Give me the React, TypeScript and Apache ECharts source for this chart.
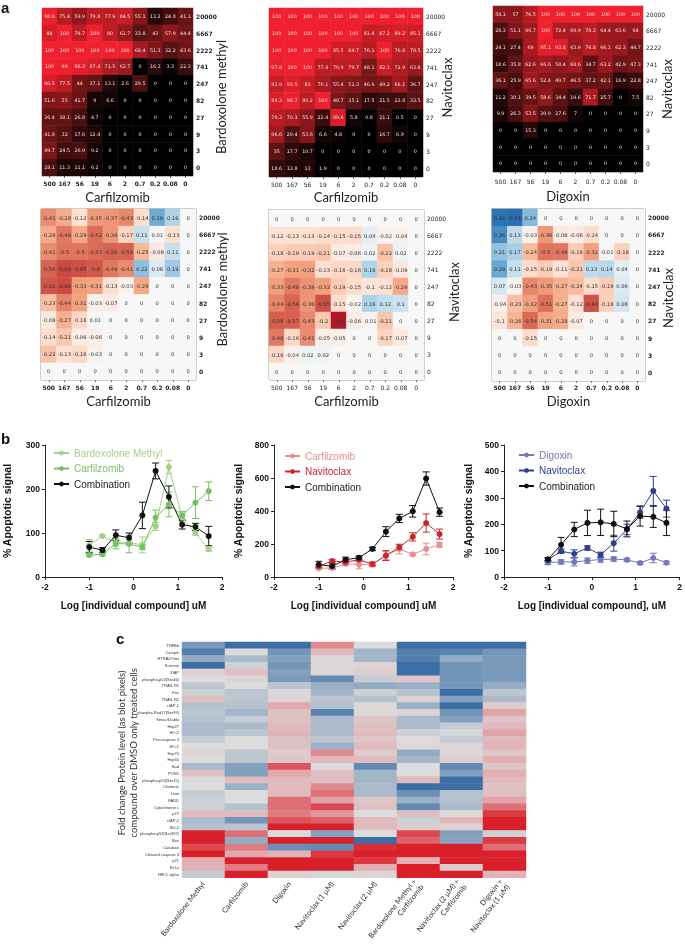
import React, { useEffect, useRef } from "react";
import * as echarts from "echarts";

// ---------- panel a ----------
const doseX = ["500", "167", "56", "19", "6", "2", "0.7", "0.2", "0.08", "0"];
const doseY = ["20000", "6667", "2222", "741", "247", "82", "27", "9", "3", "0"];

const inhibBardCarf = [
  [98.8, 75.4, 59.9, 79.8, 77.9, 84.5, 55.1, 13.2, 24.8, 41.1],
  [88, 100, 79.7, 100, 80, 61.7, 33.8, 43, 57.9, 44.4],
  [100, 100, 100, 100, 100, 100, 68.4, 51.3, 32.2, 43.6],
  [100, 99, 96.3, 87.4, 71.5, 63.7, 0, 16.3, 3.3, 22.3],
  [90.5, 77.5, 44, 37.1, 13.1, 2.6, 29.5, 0, 0, 0],
  [51.6, 55, 41.7, 9, 6.6, 0, 0, 0, 0, 0],
  [36.4, 38.1, 26.8, 4.7, 0, 0, 0, 0, 0, 0],
  [41.8, 32, 17.6, 12.4, 0, 0, 0, 0, 0, 0],
  [49.7, 24.5, 26.9, 9.2, 0, 0, 0, 0, 0, 0],
  [28.1, 11.3, 11.1, 6.2, 0, 0, 0, 0, 0, 0],
];
const inhibNaviCarf = [
  [100, 100, 100, 100, 100, 100, 100, 100, 100, 100],
  [100, 100, 100, 100, 100, 100, 81.4, 87.2, 89.2, 85.1],
  [100, 100, 100, 100, 85.5, 84.7, 76.1, 100, 76.8, 78.5],
  [97.8, 100, 100, 77.4, 79.9, 79.7, 48.1, 82.1, 72.9, 63.8],
  [81.9, 93.5, 83, 70.1, 55.4, 51.3, 46.6, 49.2, 66.1, 36.7],
  [89.3, 98.7, 80.2, 100, 48.7, 35.1, 17.5, 21.5, 23.8, 33.5],
  [76.3, 70.3, 55.9, 22.4, 89.6, 5.8, 0.8, 21.1, 0.5, 0],
  [66.6, 29.4, 53.6, 6.6, 4.8, 0, 0, 16.7, 6.9, 0],
  [35, 17.7, 10.7, 0, 0, 0, 0, 0, 0, 0],
  [18.6, 13.8, 13, 1.9, 0, 0, 0, 0, 0, 0],
];
const inhibNaviDigo = [
  [58.1, 57, 76.5, 100, 100, 100, 100, 100, 100, 100],
  [28.3, 51.1, 66.7, 100, 72.4, 69.9, 78.3, 64.4, 63.6, 64],
  [24.1, 27.4, 69, 95.1, 93.8, 63.9, 76.8, 66.1, 62.3, 44.7],
  [18.6, 35.8, 62.6, 66.6, 58.4, 68.6, 34.7, 63.2, 42.9, 47.3],
  [36.1, 25.9, 65.6, 52.4, 49.7, 46.5, 37.2, 42.1, 16.9, 22.8],
  [11.2, 30.1, 39.5, 58.6, 34.4, 19.6, 71.7, 25.7, 0, 7.5],
  [9.9, 26.3, 53.5, 30.9, 27.6, 7, 0, 0, 0, 0],
  [0, 0, 15.3, 0, 0, 0, 0, 0, 0, 0],
  [0, 0, 0, 0, 0, 0, 0, 0, 0, 0],
  [0, 0, 0, 0, 0, 0, 0, 0, 0, 0],
];
const synergyBardCarf = [
  [-0.41, -0.28, -0.12, -0.35, -0.37, -0.43, -0.14, 0.28, 0.16, 0],
  [-0.28, -0.49, -0.29, -0.52, -0.36, -0.17, 0.11, 0.01, -0.13, 0],
  [-0.41, -0.5, -0.5, -0.53, -0.56, -0.56, -0.25, -0.08, 0.11, 0],
  [-0.56, -0.68, -0.65, -0.6, -0.49, -0.41, 0.22, 0.06, 0.19, 0],
  [-0.62, -0.66, -0.33, -0.31, -0.13, -0.03, -0.29, 0, 0, 0],
  [-0.23, -0.44, -0.31, -0.03, -0.07, 0, 0, 0, 0, 0],
  [-0.08, -0.27, -0.16, 0.01, 0, 0, 0, 0, 0, 0],
  [-0.14, -0.21, -0.06, -0.06, 0, 0, 0, 0, 0, 0],
  [-0.22, -0.13, -0.16, -0.03, 0, 0, 0, 0, 0, 0],
  [0, 0, 0, 0, 0, 0, 0, 0, 0, 0],
];
const synergyNaviCarf = [
  [0, 0, 0, 0, 0, 0, 0, 0, 0, 0],
  [-0.12, -0.13, -0.13, -0.14, -0.15, -0.15, 0.04, -0.02, -0.04, 0],
  [-0.18, -0.19, -0.19, -0.21, -0.07, -0.06, 0.02, -0.22, 0.02, 0],
  [-0.27, -0.31, -0.32, -0.13, -0.16, -0.16, 0.16, -0.18, -0.09, 0],
  [-0.33, -0.48, -0.38, -0.32, -0.19, -0.15, -0.1, -0.12, -0.29, 0],
  [-0.44, -0.56, -0.36, -0.65, -0.15, -0.02, 0.16, 0.12, 0.1, 0],
  [-0.58, -0.57, -0.43, -0.2, -0.9, -0.06, -0.01, -0.21, 0, 0],
  [-0.48, -0.16, -0.41, -0.05, -0.05, 0, 0, -0.17, -0.07, 0],
  [-0.16, -0.04, 0.02, 0.02, 0, 0, 0, 0, 0, 0],
  [0, 0, 0, 0, 0, 0, 0, 0, 0, 0],
];
const synergyNaviDigo = [
  [0.42, 0.43, 0.24, 0, 0, 0, 0, 0, 0, 0],
  [0.36, 0.13, -0.03, -0.36, -0.08, -0.06, -0.14, 0, 0, 0],
  [0.21, 0.17, -0.24, -0.5, -0.49, -0.19, -0.32, -0.01, -0.18, 0],
  [0.29, 0.11, -0.15, -0.19, -0.11, -0.21, 0.13, 0.14, 0.04, 0],
  [0.07, -0.03, -0.43, -0.35, -0.27, -0.24, -0.15, -0.19, 0.06, 0],
  [-0.04, -0.23, -0.32, -0.51, -0.27, -0.12, -0.64, -0.18, 0.08, 0],
  [-0.1, -0.26, -0.54, -0.31, -0.28, -0.07, 0, 0, 0, 0],
  [0, 0, -0.15, 0, 0, 0, 0, 0, 0, 0],
  [0, 0, 0, 0, 0, 0, 0, 0, 0, 0],
  [0, 0, 0, 0, 0, 0, 0, 0, 0, 0],
];

// ---------- panel b ----------
const logDose = [-1, -0.7, -0.4, -0.1, 0.2, 0.5, 0.8, 1.1, 1.4, 1.7];

const b1Bard = [72, 93, 78, 78, 73, 115, 250, 135, 100, 63];
const b1BardErr = [13, 3, 8, 7, 18, 9, 15, 10, 5, 4];
const b1Carf = [50, 52, 76, 75, 68, 135, 165, 140, 169, 195];
const b1CarfErr = [4, 4, 12, 20, 6, 17, 28, 9, 36, 21];
const b1Comb = [68, 61, 95, 89, 140, 241, 182, 119, 114, 93];
const b1CombErr = [13, 6, 12, 11, 30, 18, 25, 10, 8, 22];

const b2Carf = [52, 55, 80, 75, 77, 130, 170, 137, 170, 195];
const b2CarfErr = [8, 10, 12, 25, 15, 25, 30, 8, 35, 15];
const b2Navi = [65, 97, 90, 105, 78, 130, 180, 243, 327, 260];
const b2NaviErr = [10, 10, 10, 10, 10, 30, 15, 25, 55, 30];
const b2Comb = [75, 65, 105, 117, 170, 275, 355, 398, 597, 393];
const b2CombErr = [20, 15, 15, 10, 10, 30, 25, 35, 40, 25];

const b3Digo = [55, 57, 57, 62, 66, 68, 65, 53, 72, 54];
const b3DigoErr = [8, 8, 15, 10, 10, 8, 6, 5, 18, 6];
const b3Navi = [65, 98, 88, 110, 84, 128, 180, 245, 326, 259];
const b3NaviErr = [8, 8, 15, 8, 10, 30, 20, 22, 55, 32];
const b3Comb = [67, 122, 180, 205, 207, 201, 182, 231, 228, 205];
const b3CombErr = [5, 28, 27, 48, 50, 48, 30, 38, 40, 48];

// ---------- panel c ----------
const proteins = [
  "TNFBb", "Catspin", "HTRA2/Omi", "Survivin", "XIAP", "phospho-p53(Ser46)", "TRAIL R1", "Fas", "TRAIL R2",
  "cIAP-1", "phospho-Rad17(Ser99)", "Smac/Diablo", "Hsp27", "HO-2", "Pro-caspase 3", "HO-1", "Hsp70", "Hsp60",
  "Bad", "PON2", "phospho-p53(Ser15)", "Clusterin", "Livin", "FADD", "Cytochrome c", "p27", "cIAP-2", "Bcl-2",
  "phospho-p53(Ser392)", "Bax", "Catalase", "Cleaved caspase 3", "p21", "Bcl-x", "HIF-1 alpha",
];
const treatments = [
  "Bardoxolone Methyl", "Carfilzomib", "Digoxin", "Navitoclax (1 μM)", "Navitoclax (2 μM)",
  "Bardoxolone Methyl +\nCarfilzomib", "Navitoclax (2 μM) +\nCarfilzomib", "Digoxin +\nNavitoclax (1 μM)",
];
const foldChange = [
  [-0.6, -1, -1, 0.6, 0, -1, -1, -1],
  [-0.85, 0, -0.65, 0.3, -0.35, -0.85, -0.8, -0.65],
  [-0.45, -0.3, -0.55, 0.05, -0.35, -0.85, -0.45, -0.6],
  [-1, -0.1, -0.65, 0.05, 0.08, -1, -0.65, -0.6],
  [0.1, 0.25, -0.55, 0.05, 0.12, -1, -0.65, -0.6],
  [0, 0.05, -0.6, -0.75, -0.15, 0.2, -0.65, -0.6],
  [-0.2, 0, -0.2, -0.4, -0.45, -0.4, -0.65, -0.45],
  [-0.1, -0.2, 0.05, -0.35, -0.1, -0.25, -1, -0.2],
  [0.25, -0.2, 0.08, -0.2, -0.25, 0.1, -0.55, -0.3],
  [-0.25, -0.25, 0.45, -0.25, 0.03, -0.4, -1, 0.15],
  [-0.2, -0.35, 0.25, -0.8, 0.03, 0.08, -0.65, 0.5],
  [-0.25, -0.15, 0.25, -0.3, 0.2, -0.3, -0.55, 0.2],
  [-0.3, -0.3, 0.3, -0.3, 0.25, -0.3, -0.15, 0.3],
  [-0.3, -0.2, 0.35, -0.3, 0.3, -0.1, -0.05, 0.5],
  [-0.15, 0, 0.25, -0.2, 0.2, 0, -0.15, 0.3],
  [0, 0, 0.25, -0.4, 0.3, 0.05, 0.07, 0.35],
  [0.05, -0.2, 0.15, 0.6, 0.15, -0.45, 0.08, 0.2],
  [0, -0.2, 0.2, 0.3, 0.3, -0.35, 0.12, 0.4],
  [-0.3, -0.55, 0.8, 0, -0.75, 0, -0.75, 0.2],
  [0.25, -0.55, 0.45, 0.25, -0.35, 0, -0.55, 0.4],
  [0, 0.3, 0.3, 0.25, -0.35, 0.3, -1, 0.3],
  [0, -0.4, 0.3, 0.6, -0.3, -1, -1, 0.25],
  [-0.15, 0, 0.3, 0.7, -0.3, -0.7, -0.25, 0.25],
  [-0.1, 0, 0.7, 0.5, 0.2, -0.4, -0.25, 0.5],
  [-0.1, -0.25, 0.7, 0.85, 0.25, -0.75, -0.3, 0.7],
  [0.3, 0.3, 0.65, 0.55, 0, 0.25, 0.03, 0.9],
  [-0.3, -0.65, 0.8, 0.75, 0.3, -0.1, 0.35, 1],
  [-0.25, -0.2, 1, 1, 0.3, 0.15, 0.08, 1],
  [1, 0.7, 0, -0.55, 0, 0.85, -0.55, -0.1],
  [1, -0.45, 1, 1, -1, 0.75, -0.5, 0.9],
  [0.85, 0.65, -0.7, -0.75, 0.95, 1, 1, 0.7],
  [1, 0.45, 0.35, 0.9, 1, 1, 1, 1],
  [0.4, 1, 1, 1, 0.9, 0.35, 1, 1],
  [0.35, 0.65, 1, 1, 0.4, 1, 0.15, 1],
  [-0.15, 1, 0.1, -0.05, 0.05, 1, 1, 0.35],
];

const inhibRamp = ["#000000", "#5a1212", "#a11a1f", "#f0202e"];
const synergyRamp = ["#b2182b", "#c43c3c", "#d2584a", "#e58368", "#f4a582", "#fddccb", "#f7f7f7", "#b5d6e9", "#62a5d0", "#2166ac"];
const foldRamp = ["#3a6ea5", "#8ba5c0", "#dcdcdc", "#e2a3a8", "#d9202a"];

const toCells = (m: number[][]) => m.flatMap((row, r) => row.map((v, c) => [c, r, v]));

function buildOption() {
  const grid: any[] = [], xAxis: any[] = [], yAxis: any[] = [], series: any[] = [], visualMap: any[] = [], legend: any[] = [];

  const heatPanels = [
    { m: inhibBardCarf, l: 42, t: 8, w: 151, h: 168, xn: "Carfilzomib", yn: "Bardoxolone methyl", bold: true, kind: "i", ng: 21, xg: 14, ys: 5, tm: 4 },
    { m: inhibNaviCarf, l: 269, t: 8, w: 154, h: 169, xn: "Carfilzomib", yn: "Navitoclax", bold: false, kind: "i", ng: 17, xg: 13, ys: -5, tm: 4 },
    { m: inhibNaviDigo, l: 493, t: 6, w: 150, h: 166, xn: "Digoxin", yn: "Navitoclax", bold: false, kind: "i", ng: 17, xg: 17, ys: 0, tm: 6 },
    { m: synergyBardCarf, l: 41, t: 209, w: 155, h: 171, xn: "Carfilzomib", yn: "Bardoxolone methyl", bold: true, kind: "s", ng: 19, xg: 14, ys: -5, tm: 4 },
    { m: synergyNaviCarf, l: 269, t: 210, w: 155, h: 170, xn: "Carfilzomib", yn: "Navitoclax", bold: false, kind: "s", ng: 23, xg: 14, ys: -3, tm: 4 },
    { m: synergyNaviDigo, l: 492, t: 209, w: 153, h: 172, xn: "Digoxin", yn: "Navitoclax", bold: true, kind: "s", ng: 16, xg: 13, ys: 3, tm: 3 },
  ];

  heatPanels.forEach((p) => {
    const i = grid.length;
    grid.push({
      left: p.l, top: p.t, width: p.w, height: p.h, show: p.kind === "s",
      borderColor: "#8a8a8a", borderWidth: 1, backgroundColor: "transparent",
    });
    const tick = { fontFamily: "DejaVu Sans", fontSize: 6, color: "#222", fontWeight: p.bold ? "bold" : "normal", interval: 0 };
    xAxis.push({
      type: "category", gridIndex: i, data: doseX, position: "bottom",
      axisLine: { show: false, onZero: false }, splitLine: { show: false },
      axisTick: { show: true, alignWithLabel: true, length: 2, lineStyle: { color: "#666" } },
      axisLabel: { ...tick, margin: p.tm },
      name: p.xn, nameLocation: "middle", nameGap: p.xg, nameMoveOverlap: false,
      nameTextStyle: { fontFamily: "Lato", fontSize: 13, color: "#222" },
    });
    yAxis.push({
      type: "category", gridIndex: i, data: doseY, position: "right", inverse: true,
      axisLine: { show: false, onZero: false }, axisTick: { show: false }, splitLine: { show: false },
      axisLabel: { ...tick, margin: 3 },
      name: p.yn, nameLocation: "middle", nameGap: p.ng, nameRotate: 90, nameMoveOverlap: false,
      nameTextStyle: {
        fontFamily: "Lato", fontSize: 13, color: "#222",
        padding: p.ys >= 0 ? [0, 2 * p.ys, 0, 0] : [0, 0, 0, -2 * p.ys],
      },
    });
    visualMap.push(
      p.kind === "i"
        ? { show: false, type: "continuous", seriesIndex: series.length, dimension: 2, min: 0, max: 100, inRange: { color: inhibRamp } }
        : { show: false, type: "continuous", seriesIndex: series.length, dimension: 2, min: -0.9, max: 0.45, inRange: { color: synergyRamp } },
    );
    series.push({
      type: "heatmap", xAxisIndex: i, yAxisIndex: i, data: toCells(p.m), silent: true,
      label: {
        show: true, fontFamily: "DejaVu Sans", fontSize: p.kind === "i" ? 4.8 : 5.2,
        color: p.kind === "i" ? "#f0e4e4" : "#333",
        formatter: (v: any) => String(v.value[2]),
      },
    });
  });

  const linePanels = [
    {
      l: 41, w: 181, max: 300, step: 100, name: "Log [individual compound] uM", lg: { left: 53, top: 448 }, gap: 33,
      items: [
        { n: "Bardoxolone Methyl", v: b1Bard, e: b1BardErr, c: "#a3d18c" },
        { n: "Carfilzomib", v: b1Carf, e: b1CarfErr, c: "#74c163" },
        { n: "Combination", v: b1Comb, e: b1CombErr, c: "#111111" },
      ],
    },
    {
      l: 274, w: 179, max: 800, step: 200, name: "Log [individual compound] uM", lg: { left: 284, top: 451 }, gap: 31,
      items: [
        { n: "Carfilzomib", v: b2Carf, e: b2CarfErr, c: "#e78d93" },
        { n: "Navitoclax", v: b2Navi, e: b2NaviErr, c: "#c9252d" },
        { n: "Combination", v: b2Comb, e: b2CombErr, c: "#111111" },
      ],
    },
    {
      l: 504, w: 179, max: 500, step: 100, name: "Log [individual compound], uM", lg: { left: 518, top: 450 }, gap: 31,
      items: [
        { n: "Digoxin", v: b3Digo, e: b3DigoErr, c: "#7378b8" },
        { n: "Navitoclax", v: b3Navi, e: b3NaviErr, c: "#2f3f8f" },
        { n: "Combination", v: b3Comb, e: b3CombErr, c: "#111111" },
      ],
    },
  ];

  linePanels.forEach((p, k) => {
    const i = grid.length;
    grid.push({ left: p.l, top: 445, width: p.w, height: 132 });
    const axisCommon = {
      axisLine: { show: true, onZero: false, lineStyle: { color: "#222", width: 1 } },
      axisTick: { show: true, length: 3, lineStyle: { color: "#222" } },
      splitLine: { show: false },
      axisLabel: { fontFamily: "Liberation Sans", fontWeight: "bold", fontSize: 8.5, color: "#111", margin: 5 },
    };
    xAxis.push({
      type: "value", gridIndex: i, min: -2, max: 2, interval: 1, position: "bottom", ...axisCommon,
      name: p.name, nameLocation: "middle", nameGap: 23, nameMoveOverlap: false,
      nameTextStyle: { fontFamily: "Liberation Sans", fontWeight: "bold", fontSize: 10, color: "#111" },
    });
    yAxis.push({
      type: "value", gridIndex: i, min: 0, max: p.max, interval: p.step, position: "left", ...axisCommon,
      name: "% Apoptotic signal", nameLocation: "middle", nameGap: p.gap, nameRotate: 90, nameMoveOverlap: false,
      nameTextStyle: { fontFamily: "Liberation Sans", fontWeight: "bold", fontSize: 10.5, color: "#111" },
    });
    p.items.forEach((s) => {
      const id = `${s.n}#${k}`;
      series.push({
        type: "custom", xAxisIndex: i, yAxisIndex: i, silent: true, z: 3,
        name: `${id}-err`, encode: { x: 0, y: [1, 2] },
        data: logDose.map((x, j) => [x, s.v[j] - s.e[j], s.v[j] + s.e[j]]),
        renderItem: (_: any, api: any) => {
          const lo = api.coord([api.value(0), api.value(1)]);
          const hi = api.coord([api.value(0), api.value(2)]);
          const st = { stroke: s.c, lineWidth: 1, fill: "none" };
          const cap = 3.5;
          return {
            type: "group",
            children: [
              { type: "line", shape: { x1: lo[0], y1: lo[1], x2: hi[0], y2: hi[1] }, style: st },
              { type: "line", shape: { x1: lo[0] - cap, y1: lo[1], x2: lo[0] + cap, y2: lo[1] }, style: st },
              { type: "line", shape: { x1: hi[0] - cap, y1: hi[1], x2: hi[0] + cap, y2: hi[1] }, style: st },
            ],
          };
        },
      });
      series.push({
        type: "line", name: id, xAxisIndex: i, yAxisIndex: i, z: 4, silent: true,
        data: logDose.map((x, j) => [x, s.v[j]]),
        symbol: "circle", symbolSize: 6,
        lineStyle: { color: s.c, width: 1 }, itemStyle: { color: s.c },
      });
    });
    legend.push({
      ...p.lg, orient: "vertical", itemWidth: 15, itemHeight: 6, itemGap: 5.5, selectedMode: false,
      padding: 0,
      formatter: (n: string) => n.split("#")[0],
      textStyle: { fontFamily: "Liberation Sans", fontSize: 10 },
      data: p.items.map((s) => ({
        name: `${s.n}#${k}`,
        textStyle: { color: s.c === "#111111" ? "#222" : s.c },
      })),
    });
  });

  const ci = grid.length;
  grid.push({ left: 182, top: 642, width: 344, height: 245 });
  xAxis.push({
    type: "category", gridIndex: ci, data: treatments, position: "bottom",
    axisLine: { show: false, onZero: false }, axisTick: { show: false },
    axisLabel: { interval: 0, rotate: 52, fontFamily: "Lato", fontSize: 7.5, color: "#333", margin: 5, lineHeight: 9 },
  });
  yAxis.push({
    type: "category", gridIndex: ci, data: proteins, inverse: true, position: "left",
    axisLine: { show: false, onZero: false }, axisTick: { show: false },
    axisLabel: { interval: 0, fontFamily: "Liberation Sans", fontSize: 4, color: "#333", margin: 3 },
    name: "Fold change Protein level (as blot pixels)\ncompound over DMSO only treated cells",
    nameLocation: "middle", nameGap: 43, nameRotate: 90, nameMoveOverlap: false,
    nameTextStyle: { fontFamily: "Lato", fontSize: 9.5, color: "#333", lineHeight: 12, padding: [0, 0, 0, 14] },
  });
  visualMap.push({ show: false, type: "continuous", seriesIndex: series.length, dimension: 2, min: -1, max: 1, inRange: { color: foldRamp } });
  series.push({ type: "heatmap", xAxisIndex: ci, yAxisIndex: ci, data: toCells(foldChange), silent: true });

  const letter = (t: string, x: number, y: number) => ({
    type: "text", left: x, top: y,
    style: { text: t, fontFamily: "Liberation Sans", fontWeight: "bold", fontSize: 15, lineHeight: 8, fill: "#111" },
  });

  return {
    animation: false,
    backgroundColor: "#ffffff",
    tooltip: { show: false },
    grid, xAxis, yAxis, series, visualMap, legend,
    graphic: [letter("a", 1, 0), letter("b", 1, 431), letter("c", 116, 631)],
  };
}

export default function App() {
  const ref = useRef<HTMLDivElement>(null);
  useEffect(() => {
    const chart = echarts.init(ref.current!, undefined, { renderer: "svg" });
    chart.setOption(buildOption() as any);
    return () => chart.dispose();
  }, []);
  return <div ref={ref} style={{ position: "absolute", left: 0, top: 0, width: 685, height: 948, willChange: "transform" }} />;
}
